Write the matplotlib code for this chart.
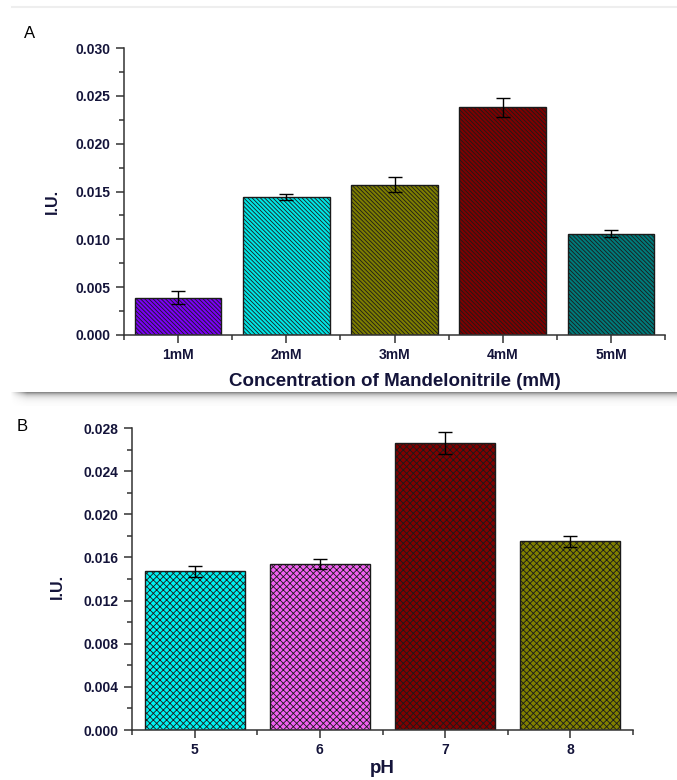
import numpy as np
import matplotlib
matplotlib.use('Agg')
import matplotlib.pyplot as plt
from matplotlib.ticker import MultipleLocator, FixedLocator, FormatStrFormatter

plt.rcParams['font.family'] = ['Liberation Sans', 'DejaVu Sans']
plt.rcParams['hatch.linewidth'] = 0.6

# Panel A: activity vs. substrate concentration
conc_labels = ['1mM', '2mM', '3mM', '4mM', '5mM']
conc_iu = [0.0039, 0.0144, 0.0157, 0.0238, 0.0106]
conc_err = [0.0007, 0.0003, 0.0008, 0.0010, 0.0004]
conc_colors = ['#7a00f5', '#00e6e6', '#7d7d00', '#7d0000', '#007a7a']

# Panel B: activity vs. pH
ph_labels = ['5', '6', '7', '8']
ph_iu = [0.0147, 0.0154, 0.0266, 0.0175]
ph_err = [0.0005, 0.0005, 0.0010, 0.0005]
ph_colors = ['#00f2f2', '#f060f0', '#800000', '#808000']

label_color = '#14143a'
edge = '#1a1a1a'

W, H = 677, 780
fig = plt.figure(figsize=(W / 100, H / 100), dpi=100)


def px_axes(left, top, right, bottom):
    return fig.add_axes([left / W, 1 - bottom / H, (right - left) / W, (bottom - top) / H])


def style_axes(ax, n, ymax, ystep):
    for side in ('top', 'right'):
        ax.spines[side].set_visible(False)
    for side in ('left', 'bottom'):
        ax.spines[side].set_linewidth(1.1)
        ax.spines[side].set_color('#333333')
    ax.set_xlim(0.5, n + 0.5)
    ax.set_ylim(0, ymax)
    ax.yaxis.set_major_locator(MultipleLocator(ystep))
    ax.yaxis.set_minor_locator(MultipleLocator(ystep / 2))
    ax.yaxis.set_major_formatter(FormatStrFormatter('%.3f'))
    ax.xaxis.set_minor_locator(FixedLocator(np.arange(0.5, n + 1, 1.0)))
    ax.tick_params(which='major', direction='out', length=6, width=1.1, color='#333333',
                   labelsize=10, labelcolor=label_color)
    ax.tick_params(which='minor', direction='out', length=3.5, width=1.1, color='#333333')
    for lab in ax.get_xticklabels() + ax.get_yticklabels():
        lab.set_fontweight('bold')


# ---- panel A ----
axA = px_axes(124, 48, 665, 335)
xa = np.arange(1, len(conc_iu) + 1)
axA.bar(xa, conc_iu, width=0.8, color=conc_colors, edgecolor=edge, linewidth=1.0,
        hatch='\\' * 8, zorder=2)
axA.errorbar(xa, conc_iu, yerr=conc_err, fmt='none', ecolor='black', elinewidth=1.0,
             capsize=5, capthick=1.0, zorder=3)
axA.set_xticks(xa)
axA.set_xticklabels(conc_labels)
style_axes(axA, len(conc_iu), 0.030, 0.005)
axA.set_xlabel('Concentration of Mandelonitrile (mM)', fontsize=13.5, fontweight='bold',
               color=label_color)
axA.xaxis.set_label_coords(0.5, -0.132)
axA.set_ylabel('I.U.', fontsize=11.5, fontweight='bold', color=label_color)
axA.yaxis.set_label_coords(-0.118, 0.467)
fig.text(24 / W, 1 - 38 / H, 'A', fontsize=12, color='black', ha='left', va='baseline')

# ---- panel B ----
axB = px_axes(132, 428, 633, 730)
xb = np.arange(1, len(ph_iu) + 1)
axB.bar(xb, ph_iu, width=0.8, color=ph_colors, edgecolor=edge, linewidth=1.0,
        hatch='xxxxx', zorder=2)
axB.errorbar(xb, ph_iu, yerr=ph_err, fmt='none', ecolor='black', elinewidth=1.0,
             capsize=4.7, capthick=1.0, zorder=3)
axB.set_xticks(xb)
axB.set_xticklabels(ph_labels)
style_axes(axB, len(ph_iu), 0.028, 0.004)
axB.set_xlabel('pH', fontsize=13.5, fontweight='bold', color=label_color)
axB.xaxis.set_label_coords(0.5, -0.099)
axB.set_ylabel('I.U.', fontsize=11.5, fontweight='bold', color=label_color)
axB.yaxis.set_label_coords(-0.134, 0.474)
fig.text(17 / W, 1 - 431 / H, 'B', fontsize=12, color='black', ha='left', va='baseline')

# ---- shaded divider between the panels ----
sh = fig.add_axes([10 / W, 1 - 406 / H, (W - 10) / W, 14 / H])
rows = np.linspace(0, 1, 28)
profile = 1 - 0.5 * np.exp(-rows * 4.0)
cols = np.clip(np.linspace(0, 1, 600) * 40, 0, 1)
shade = 1 - np.outer(1 - profile, cols)
sh.imshow(shade, cmap='gray', vmin=0, vmax=1, aspect='auto', interpolation='bilinear')
sh.axis('off')

# faint rule at the very top
fig.add_artist(plt.Line2D([12 / W, 1], [1 - 7 / H, 1 - 7 / H], color='#eeeeee', lw=1.5))

fig.savefig('out.png', dpi=100, facecolor='white')
